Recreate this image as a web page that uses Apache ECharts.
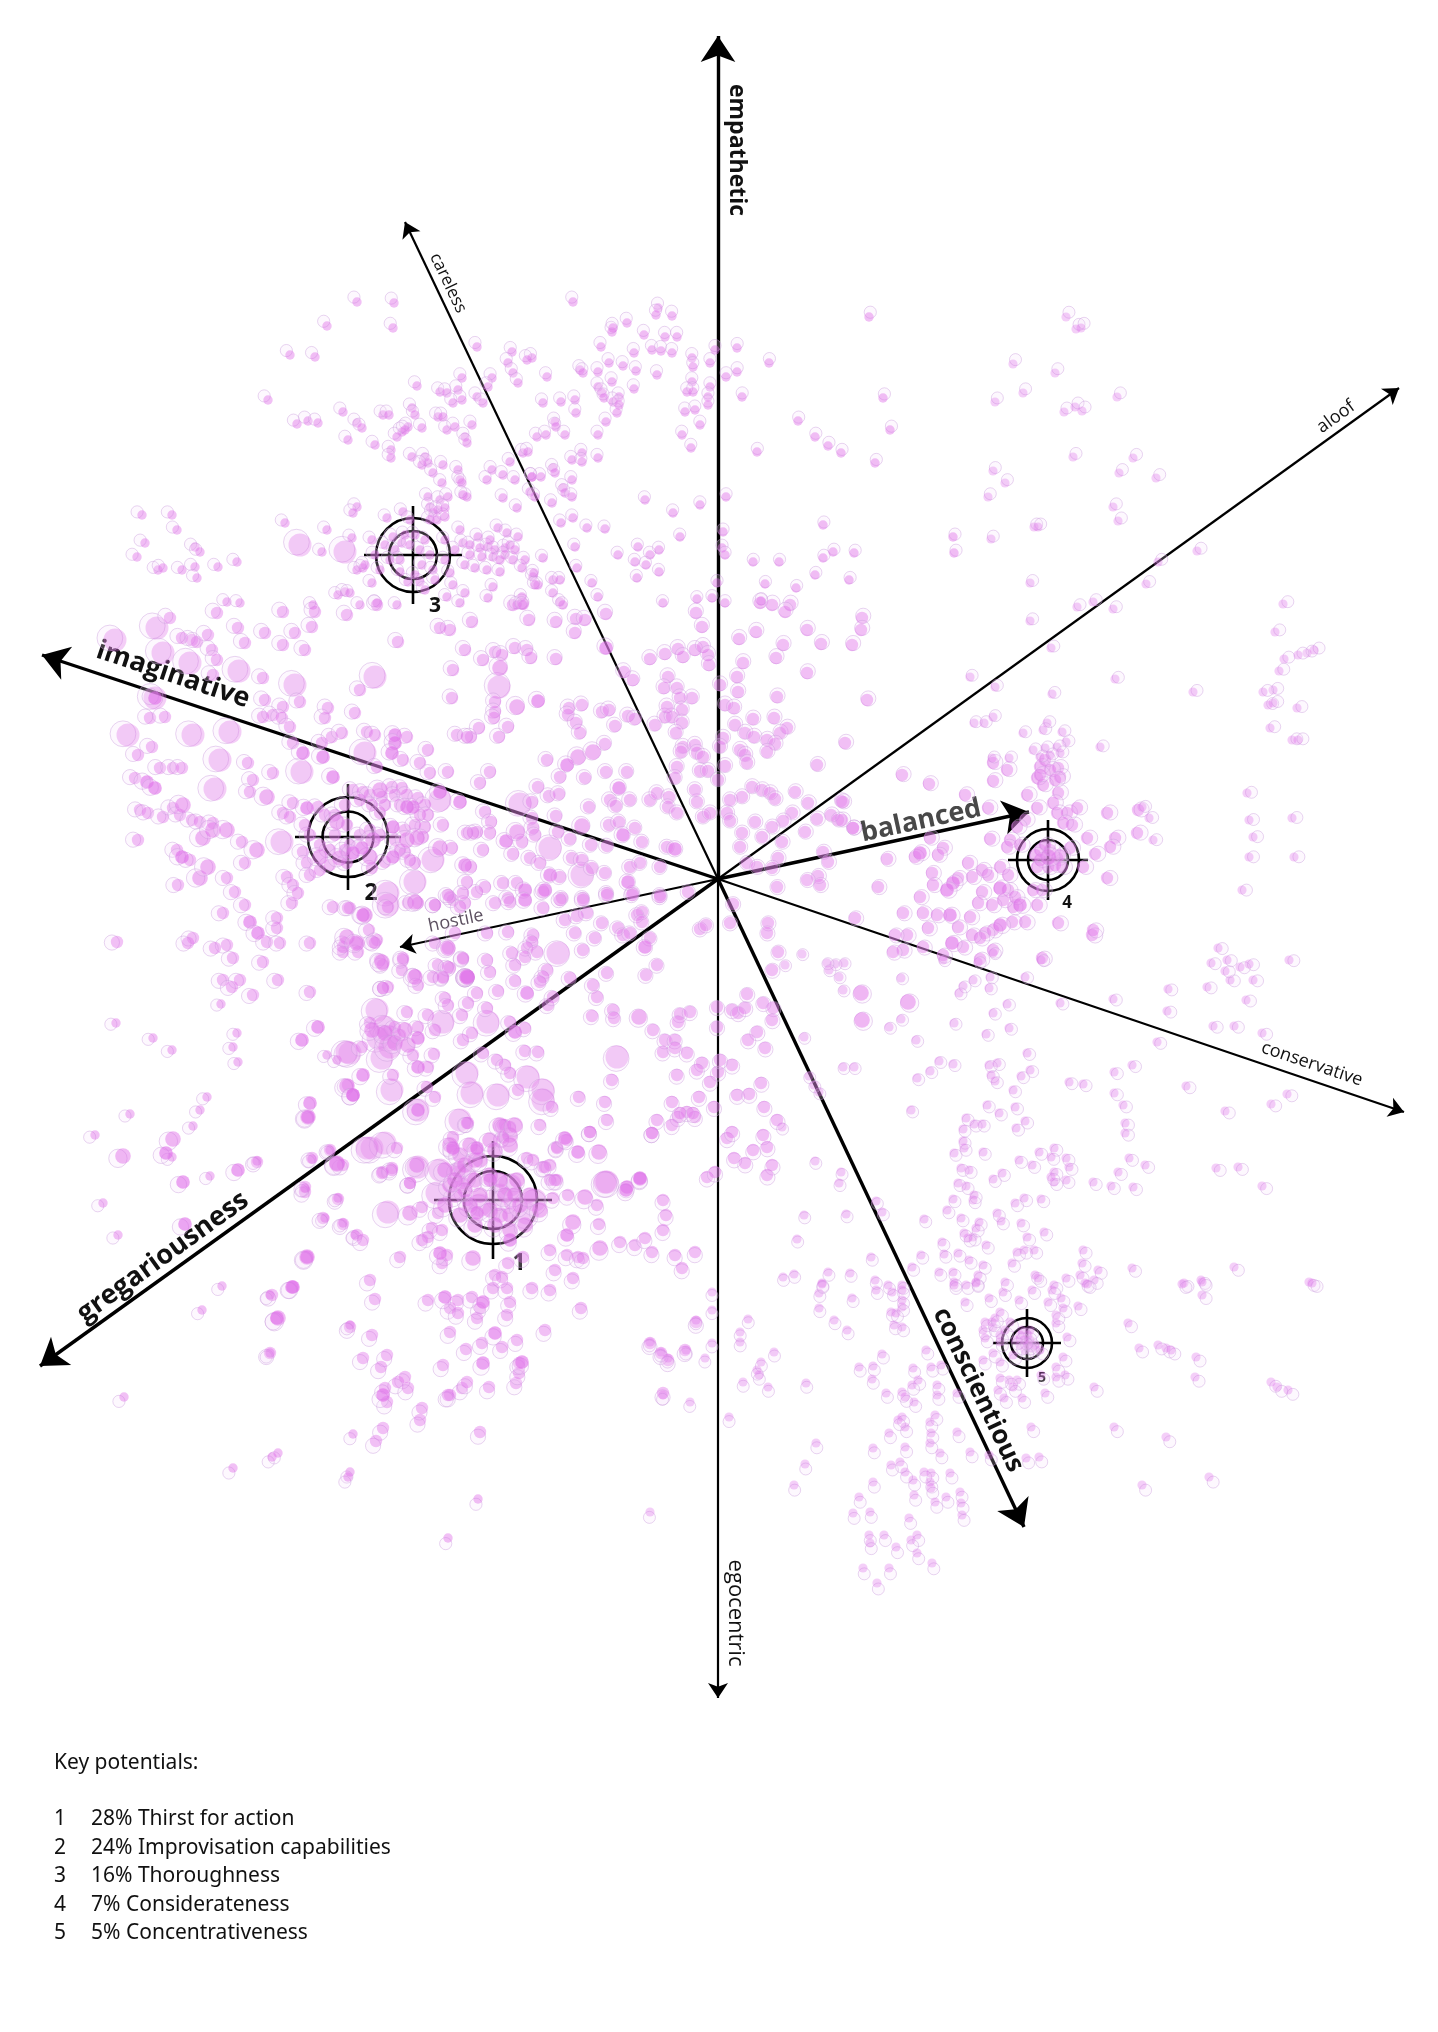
<!DOCTYPE html>
<html><head><meta charset="utf-8">
<style>html,body{margin:0;padding:0;background:#fff}#c{width:1438px;height:2032px}</style>
<script src="https://cdn.jsdelivr.net/npm/echarts@6/dist/echarts.min.js"></script>
</head><body><div id="c"></div>
<script>
const origin=[718,879];
const majorAxes=[["empathetic",[718,36]],["imaginative",[42,655]],["gregariousness",[40,1366]],["conscientious",[1024,1527]],["balanced",[1029,812]]];
const minorAxes=[["egocentric",[718,1698]],["careless",[405,222]],["aloof",[1399,388]],["conservative",[1404,1112]],["hostile",[400,947]]];
const axisLabels=[
["empathetic",737,150,-90,"b",23,"#111"],["egocentric",735,1613,-90,"r",22,"#111"],
["careless",448,283,-64.5,"r",17,"#111"],["aloof",1336,417,35.8,"r",18,"#111"],
["conservative",1312,1064,-18.7,"r",18,"#111"],["hostile",456,921,11.8,"r",18,"#5c5060"],
["balanced",921,821,12.2,"b",27,"#484848"],["imaginative",173,675,-18.5,"b",27,"#111"],
["gregariousness",163,1257,35.8,"b",27,"#111"],["conscientious",978,1390,-64.5,"b",26,"#111"]];
const targets=[[493,1200,44,29,59,"1",519,1263,23],[348,837,40,25.5,53,"2",371,893,23],[413,555,37,24,49,"3",435,606,21],[1048,860,31,20,40,"4",1067,903,17],[1027,1343,25,16,34,"5",1042,1378,14]];
const legendTitle="Key potentials:";
const legendRows=[["1","28% Thirst for action"],["2","24% Improvisation capabilities"],["3","16% Thoroughness"],["4","7% Considerateness"],["5","5% Concentrativeness"]];

const largeDots=[[300,545],[345,552],[115,640],[157,628],[163,653],[190,663],[239,671],[295,685],[375,677],[499,687],[155,698],[128,735],[193,735],[230,732],[220,760],[215,789],[302,772],[282,842],[365,753],[440,800],[433,860],[388,893],[388,905],[415,882],[520,804],[550,848],[582,875],[558,953],[377,1010],[488,1022],[443,1022],[385,1027],[390,1037],[378,1038],[350,1053],[382,1058],[390,1047],[392,1090],[467,1073],[528,1077],[472,1093],[498,1095],[543,1090],[543,1100],[617,1057],[460,1120],[372,1148],[385,1143],[367,1148],[418,1167],[418,1110],[607,1182],[605,1182],[437,1193],[388,1212],[527,1213],[347,1052],[500,1195],[480,1205],[510,1185],[465,1175],[440,1170],[535,1200]];
const midDots=[[500,668],[517,707],[578,757],[593,752],[582,826],[517,832],[203,838],[213,830],[227,830],[183,805],[200,878],[208,867],[257,850],[267,797],[380,790],[347,937],[357,943],[365,915],[415,902],[382,962],[415,977],[448,948],[467,977],[337,822],[373,840],[370,857],[407,840],[417,838],[320,857],[340,858],[440,848],[467,977],[639,1017],[599,1152],[417,1165],[458,1170],[517,1180],[410,1213],[308,1117],[337,1163],[573,1222],[600,1248],[473,1258],[585,1197],[337,1164],[123,1156],[173,1139],[278,1318],[307,1257],[347,1086],[467,977],[862,1020],[1048,857],[861,993],[908,1002],[475,1180],[490,1175],[500,1180],[505,1195],[515,1195],[480,1195],[470,1205],[490,1210],[500,1215],[510,1215],[520,1205],[530,1195],[465,1190],[455,1195],[450,1185],[445,1205],[460,1215],[475,1225],[495,1225],[510,1230],[525,1225],[540,1210],[450,1145],[460,1155],[470,1145],[490,1140],[500,1125],[510,1135],[515,1125],[480,1160],[465,1165],[445,1170],[455,1180],[475,1160],[495,1150],[510,1145],[385,1033],[395,1043],[405,1030],[408,1045],[372,1030]];
const strongDots=[[606,648],[538,701],[567,765],[619,788],[623,835],[506,841],[675,849],[550,875],[545,890],[628,882],[525,890],[363,915],[525,900],[527,993],[467,977],[645,947],[515,1032],[418,1038],[418,1067],[363,1075],[353,1095],[418,1110],[453,1148],[477,1148],[565,1138],[578,1152],[640,1179],[627,1187],[490,1180],[640,1178],[626,1190],[477,1213],[567,1235],[510,1240],[440,1253],[293,1287],[445,1297],[483,1302],[495,1333],[483,1363],[522,1362],[383,1395],[155,698],[147,782],[155,788],[182,857],[250,922],[258,933],[303,753],[323,757],[333,777],[395,735],[395,743],[392,753],[440,792],[460,802],[413,807],[407,807],[307,808],[362,848],[353,853],[393,827],[393,857],[465,865],[318,1027],[302,1040],[353,1095],[310,1103],[308,1117],[166,1153],[238,1170],[183,1182],[185,1224],[307,1257],[292,1287],[277,1318],[920,853],[953,883],[947,890],[1000,888],[1020,905],[950,915],[1000,925],[952,943]];
const coreDots=[[513,605],[523,604],[472,622],[529,620],[556,622],[576,619],[585,620],[606,614],[575,633],[696,613],[702,627],[739,639],[756,632],[807,630],[862,618],[861,630],[783,645],[821,644],[852,645],[776,658],[760,603],[790,605],[785,612],[772,605],[483,660],[495,652],[502,655],[515,648],[527,650],[531,658],[556,659],[650,659],[665,654],[678,649],[683,657],[695,650],[703,647],[708,655],[709,665],[633,680],[624,672],[668,677],[664,688],[677,688],[692,698],[680,698],[737,677],[738,692],[720,685],[743,663],[807,673],[777,697],[867,700],[725,705],[734,708],[753,719],[774,718],[495,702],[495,712],[494,718],[569,708],[582,705],[568,715],[576,723],[580,733],[602,712],[609,710],[615,726],[628,716],[635,719],[479,728],[508,727],[499,737],[471,737],[655,725],[665,717],[672,717],[682,710],[682,723],[667,707],[676,733],[735,725],[745,733],[754,737],[767,740],[780,733],[787,728],[775,744],[767,752],[723,738],[720,747],[683,747],[695,745],[681,752],[697,753],[703,757],[740,750],[745,755],[747,763],[725,766],[845,743],[817,765],[677,767],[700,771],[708,771],[718,780],[675,778],[547,760],[560,777],[605,744],[585,778],[606,772],[627,772],[490,772],[480,783],[538,787],[532,802],[549,796],[559,794],[610,800],[630,800],[616,806],[589,807],[650,800],[657,793],[669,797],[668,807],[677,813],[697,802],[695,790],[703,817],[710,813],[727,813],[730,800],[742,797],[752,787],[762,790],[770,793],[775,799],[795,792],[808,803],[792,813],[783,821],[772,827],[755,822],[730,821],[817,819],[831,815],[838,820],[841,801],[853,828],[742,833],[740,847],[762,837],[782,842],[805,832],[823,852],[828,862],[818,876],[807,880],[820,885],[778,858],[777,887],[747,863],[757,867],[772,868],[485,812],[491,822],[532,818],[556,816],[609,825],[619,822],[635,828],[642,842],[607,846],[591,845],[570,839],[558,832],[533,828],[535,835],[522,842],[513,854],[490,833],[477,832],[483,850],[667,847],[530,858],[540,863],[572,858],[582,860],[592,868],[605,873],[560,877],[640,863],[630,867],[633,893],[607,893],[660,867],[660,895],[471,867],[485,887],[503,883],[517,883],[477,892],[508,898],[583,898],[562,898],
[388,907],[350,908],[369,930],[357,943],[345,943],[373,942],[358,952],[343,952],[408,903],[418,903],[435,905],[453,900],[460,907],[495,903],[510,902],[543,892],[560,900],[543,908],[583,900],[607,895],[632,895],[660,897],[688,892],[587,913],[577,916],[565,920],[575,933],[602,923],[595,938],[583,950],[642,912],[637,915],[642,922],[618,928],[623,935],[630,933],[650,938],[487,933],[455,933],[508,932],[448,948],[463,959],[533,935],[532,942],[527,948],[525,957],[512,953],[537,952],[515,965],[547,970],[543,977],[540,982],[380,960],[383,965],[403,960],[402,970],[415,975],[418,985],[438,965],[450,968],[443,978],[467,977],[487,960],[490,972],[515,981],[498,991],[570,978],[607,973],[593,985],[597,997],[383,988],[388,987],[445,998],[448,1005],[477,993],[468,1003],[548,1005],[553,997],[646,975],[657,965],[370,1023],[407,1012],[428,1015],[462,1015],[487,1008],[510,1022],[525,1028],[395,1027],[400,1035],[418,1027],[435,1030],[472,1033],[463,1040],[613,1010],[592,1016],[614,1018],[653,1030],[680,1014],[690,1012],[678,1022],[700,929],[706,925],[730,923],[733,904],[717,1007],[732,1010],[738,1013],[745,1008],[717,1027],[768,923],[767,933],[772,970],[778,952],[747,994],[763,1003],[773,1008],[772,1020],[757,1032],[748,1040],[765,1048],[665,1040],[675,1040],[663,1052],[675,1048],[687,1053],[362,1047],[413,1055],[434,1054],[428,1067],[393,1075],[348,1085],[525,1051],[538,1052],[483,1053],[497,1060],[505,1065],[510,1073],[518,1090],[552,1107],[612,1080],[579,1097],[605,1102],[607,1120],[435,1097],[427,1087],[702,1063],[718,1072],[732,1065],[697,1070],[710,1082],[677,1075],[720,1060],[761,1083],[737,1095],[749,1094],[699,1097],[764,1107],[672,1102],[714,1107],[657,1120],[678,1117],[695,1117],[672,1125],[687,1112],[652,1133],[777,1120],[727,1138],[732,1132],[763,1135],[753,1150],[767,1147],[734,1158],[745,1163],[772,1165],[767,1175],[707,1177],[715,1172],
[468,1123],[503,1125],[510,1127],[540,1125],[503,1138],[453,1137],[397,1148],[343,1165],[383,1172],[392,1168],[410,1183],[460,1167],[557,1147],[590,1132],[527,1158],[543,1167],[550,1165],[557,1180],[467,1123],[505,1125],[680,1113],[693,1113],[652,1133],[453,1150],[477,1150],[503,1137],[567,1140],[590,1132],[557,1148],[330,1150],[312,1158],[257,1162],[392,1170],[382,1173],[410,1183],[305,1187],[305,1192],[533,1160],[545,1167],[550,1180],[555,1180],[422,1207],[338,1199],[467,1200],[463,1183],[510,1203],[553,1198],[568,1195],[597,1205],[663,1200],[666,1215],[663,1230],[323,1218],[343,1224],[357,1235],[363,1240],[438,1213],[432,1228],[442,1230],[428,1237],[422,1240],[599,1224],[620,1242],[635,1245],[645,1238],[652,1252],[447,1255],[442,1263],[523,1257],[550,1250],[567,1255],[578,1257],[583,1258],[675,1255],[682,1268],[695,1252],[400,1257],[508,1263],[555,1270],[573,1278],[495,1275],[502,1277],[493,1288],[507,1288],[532,1288],[550,1290],[272,1295],[370,1280],[375,1299],[428,1300],[458,1300],[472,1297],[480,1308],[450,1308],[458,1313],[477,1318],[510,1302],[507,1315],[581,1308],[545,1330],[350,1327],[450,1332],[517,1340],[482,1343],[502,1347],[466,1349],[372,1335],[650,1343],[696,1322],[685,1350],[661,1353],[668,1360],[270,1353],[363,1358],[387,1355],[381,1367],[443,1365],[405,1377],[398,1382],[408,1388],[462,1388],[489,1387],[516,1383],[385,1388],[450,1395],[663,1393],
[387,1402],[422,1408],[448,1395],[467,1382],[480,1432],[383,1428],[376,1441],[519,1363],[519,1373],[420,1420],
[170,618],[192,640],[182,638],[197,642],[208,635],[212,650],[217,660],[213,675],[360,690],[263,678],[265,700],[300,702],[283,707],[150,718],[165,717],[217,613],[238,628],[245,643],[265,633],[283,645],[295,633],[305,650],[312,627],[315,612],[283,612],[347,615],[398,642],[377,605],[450,630],[465,650],[453,670],[452,698],[457,735],[467,737],[440,628],[273,715],[282,718],[263,717],[290,727],[328,708],[355,713],[325,718],[367,732],[375,735],[332,737],[342,733],[407,737],[403,760],[428,750],[420,763],[448,772],[430,773],[293,743],[322,743],[377,767],[353,790],[363,792],[392,787],[402,788],[318,807],[293,803],[283,813],[290,817],[273,773],[253,780],[248,763],[250,792],[138,840],[135,778],[160,768],[138,755],[152,747],[173,768],[182,768],[140,810],[148,813],[163,817],[173,808],[180,815],[192,820],[200,822],[213,823],[242,842],[245,863],[177,850],[190,860],[178,885],[227,878],[235,892],[287,877],[293,885],[298,893],[292,903],[245,905],[223,913],[277,918],[277,928],[267,942],[280,943],[227,945],[215,948],[193,938],[188,943],[117,942],[233,958],[263,962],[310,943],[343,947],[377,940],[333,907],[348,908],[435,905],[450,897],[465,903],[375,943],[403,958],[435,943],[463,958],[448,967],[443,977],[383,988],[223,980],[240,980],[232,987],[278,980],[310,992],[433,977],[253,995],[347,863],[303,852],[307,863],[452,848],[443,825],[425,827],[423,837],[415,863],[405,852],[467,882],[448,895],[463,893],[473,833],[467,833],[380,813],
[370,795],[382,797],[395,795],[407,795],[418,798],[425,805],[400,805],[385,805],[372,805],[360,800],[345,805],[335,815],[325,815],[347,825],[335,835],[350,845],[360,835],[370,830],[380,835],[395,840],[405,830],[415,825],[420,815],[428,815],[400,850],[410,860],[385,862],[372,868],[345,850],[330,850],[320,845],[310,835],[305,825],[330,865],[320,870],[310,875],
[902,775],[929,784],[993,781],[993,763],[1007,770],[1040,767],[1058,768],[1037,778],[1043,785],[1060,777],[1058,793],[1027,795],[1037,808],[1053,803],[1057,813],[1067,813],[1077,808],[1063,823],[1072,825],[965,795],[988,808],[1107,813],[1138,810],[1025,820],[1017,827],[1010,840],[1007,847],[1020,845],[990,839],[1087,838],[1115,838],[1110,847],[1137,833],[1095,854],[943,848],[930,838],[915,857],[938,855],[887,859],[853,828],[843,802],[842,820],[1040,850],[1057,858],[1048,867],[1037,867],[1062,867],[1070,848],[1083,867],[1042,890],[1033,890],[968,863],[972,877],[932,873],[933,885],[958,878],[982,870],[988,875],[1000,867],[1008,875],[982,892],[1008,890],[920,897],[878,887],[1107,878],[978,903],[992,905],[1013,907],[1037,905],[1003,900],[1015,897],[903,913],[923,913],[937,915],[970,917],[855,918],[928,928],[958,927],[993,930],[985,933],[1012,922],[1025,922],[1058,923],[907,935],[895,935],[972,935],[980,938],[963,947],[903,950],[893,952],[993,950],[1092,935],[1093,930],[923,947],[1042,958],[980,959],[943,955],[1040,860],[1050,850],[1055,865],[1045,845],[1060,855],[1035,855],[1045,760],[1050,770],[1055,780],[1040,775]];
const lightDots=[[357,302],[394,303],[327,326],[393,328],[290,355],[315,357],[268,400],[477,347],[512,352],[532,358],[527,360],[508,363],[513,373],[518,383],[417,386],[462,378],[492,378],[488,387],[440,392],[447,393],[458,390],[462,400],[453,403],[477,397],[483,403],[297,424],[308,421],[318,423],[343,412],[357,423],[362,428],[348,440],[383,415],[389,415],[412,408],[415,415],[422,428],[438,417],[443,417],[447,430],[455,427],[465,437],[467,443],[472,425],[408,427],[402,432],[397,437],[405,430],[375,445],[391,450],[391,458],[412,457],[425,457],[428,463],[422,465],[433,473],[443,465],[458,470],[460,480],[462,483],[467,497],[463,495],[442,483],[492,470],[487,480],[503,475],[515,480],[510,462],[523,453],[528,452],[532,477],[530,492],[535,497],[503,498],[517,508],[428,497],[430,507],[440,500],[448,497],[433,513],[445,517],[437,520],[357,507],[353,513],[285,523],[327,530],[142,515],[172,515],[177,530],[145,543],[137,557],[195,547],[200,552],[237,562],[218,567],[158,570],[163,568],[182,570],[195,567],[197,578],[227,602],[240,603],[387,518],[403,512],[410,520],[372,540],[393,537],[402,543],[352,538],[322,552],[363,568],[357,570],[372,583],[422,565],[420,582],[408,582],[433,570],[345,592],[338,595],[350,593],[397,605],[377,603],[360,605],[313,605],[460,530],[463,543],[478,537],[498,528],[507,533],[518,537],[488,547],[505,555],[493,557],[482,557],[513,560],[522,568],[465,565],[475,568],[487,570],[500,572],[450,573],[453,585],[465,593],[447,597],[460,603],[493,587],[488,598],[522,597],[517,605],[523,605],[533,577],[538,585],
[385,545],[395,550],[400,560],[410,545],[420,550],[430,555],[425,540],[415,535],[405,535],[390,560],[400,572],[415,575],[425,590],[435,580],[375,555],[365,565],[380,570],[445,540],[455,550],[445,560],[470,555],[480,548],[495,550],[505,548],[510,545],[500,560],[515,550],[525,560],[490,540],[470,545],[438,510],[445,508],[430,520],
[573,302],[658,308],[656,315],[672,316],[627,323],[612,332],[613,328],[644,335],[665,337],[677,337],[601,347],[634,353],[652,350],[661,351],[672,353],[609,363],[623,366],[598,372],[636,371],[657,375],[580,370],[583,373],[547,377],[692,358],[693,367],[710,363],[715,350],[737,348],[769,363],[737,372],[726,377],[598,387],[602,393],[612,382],[634,389],[619,397],[613,402],[617,413],[619,405],[604,398],[692,382],[687,392],[693,392],[710,387],[708,397],[708,405],[742,397],[575,400],[561,402],[543,403],[576,413],[685,412],[695,410],[606,422],[700,425],[555,422],[556,427],[537,437],[546,435],[565,435],[598,435],[682,435],[691,448],[798,421],[815,437],[828,446],[841,453],[883,398],[890,430],[875,463],[869,317],[757,452],[582,453],[572,460],[582,462],[598,458],[553,468],[555,473],[541,477],[532,477],[572,480],[563,488],[565,493],[572,497],[552,503],[645,500],[673,513],[700,505],[726,497],[573,518],[561,523],[587,528],[605,529],[680,537],[575,547],[823,525],[953,537],[954,553],[723,532],[722,548],[725,555],[638,547],[618,555],[635,562],[650,555],[646,565],[659,550],[659,572],[637,578],[543,558],[577,568],[753,562],[779,562],[823,558],[833,552],[854,553],[815,575],[849,580],[765,584],[796,588],[717,583],[592,583],[598,597],[534,573],[535,585],[553,580],[560,580],[553,593],[560,602],[563,605],[663,603],[697,599],[712,598],[725,603],[761,601],
[116,1023],[153,1038],[172,1050],[221,1004],[237,1033],[233,1047],[238,1062],[327,1055],[337,1060],[207,1097],[200,1110],[193,1126],[130,1114],[95,1135],[172,1157],[330,1150],[312,1159],[257,1161],[210,1176],[103,1203],[118,1235],[305,1188],[338,1198],[325,1218],[343,1223],[355,1235],[222,1286],[202,1310],[270,1295],[350,1325],[270,1353],[124,1397],[233,1468],[278,1453],[272,1457],[353,1434],[350,1472],[478,1499],[448,1538],[348,1477]];
const faintDots=[[1066,317],[1076,329],[1081,328],[1013,364],[1055,373],[1117,397],[995,402],[1023,393],[1064,412],[1075,407],[1082,411],[1073,457],[1133,458],[1119,473],[1156,478],[993,471],[1005,483],[988,497],[1113,507],[1118,521],[1034,527],[1038,527],[991,539],[1197,551],[1158,562],[1146,584],[1030,583],[1077,607],[1093,602],[1113,609],[1030,621],[1283,604],[1275,632],[1284,659],[1307,653],[1051,648],[970,677],[995,687],[1115,679],[1052,694],[1193,692],[1273,690],[1268,705],[1297,708],[1270,728],[1292,740],[974,723],[984,723],[993,717],[1023,733],[1043,730],[1047,723],[1062,732],[1066,742],[1033,750],[1045,748],[1057,747],[1060,753],[1100,747],[992,758],[1009,758],[1040,757],[1050,755],
[1142,807],[1149,818],[1247,793],[1253,837],[1249,820],[1292,818],[1294,857],[1249,857],[1153,840],[1242,890],[1227,960],[1230,980],[1207,987],[1253,980],[1289,960],[1298,655],[1314,650],[1279,671],[1273,703],[1298,740],[1263,692],[1218,948],[1240,967],
[802,954],[785,965],[835,964],[844,963],[827,963],[829,970],[839,977],[843,990],[901,978],[943,960],[978,962],[993,953],[1041,960],[1025,977],[1060,1003],[1113,999],[1168,989],[1167,1011],[1211,963],[1225,971],[1249,964],[1246,1000],[1213,1026],[1234,1026],[1262,1033],[1157,1042],[973,980],[963,986],[959,993],[989,988],[990,977],[1007,1004],[993,1013],[901,1019],[889,1027],[916,1040],[954,1023],[986,1034],[1009,1028],[804,1037],[1027,1053],[953,1064],[939,1061],[930,1071],[917,1078],[843,1067],[854,1067],[989,1065],[997,1063],[991,1075],[995,1081],[1030,1070],[1021,1076],[1069,1082],[1083,1084],[1114,1072],[1132,1065],[1013,1090],[1114,1093],[1123,1105],[1186,1086],[1225,1111],[1271,1104],[1287,1094],[809,1076],[814,1085],[819,1092],[911,1110],[987,1105],[999,1113],[1015,1107],[1025,1121],[1016,1128],[966,1118],[963,1129],[974,1124],[982,1124],[963,1141],[964,1148],[954,1153],[983,1152],[782,1127],[1125,1123],[1125,1133],[815,1161],[841,1172],[839,1183],[961,1168],[969,1170],[1002,1173],[993,1179],[1019,1160],[1032,1165],[1039,1152],[1054,1148],[1051,1157],[1066,1158],[1069,1167],[1054,1172],[1051,1177],[1066,1180],[1054,1182],[1093,1182],[1111,1186],[1133,1187],[1118,1172],[1129,1158],[1145,1165],[1216,1168],[1238,1167],[1262,1186],[958,1183],[966,1186],[974,1195],[973,1200],[953,1199],[947,1210],[1024,1198],[1015,1203],[1041,1199],[876,1201],[882,1212],[804,1215],[846,1214],[924,1219],[961,1218],[997,1213],[1001,1221],[979,1222],[1021,1223],[1044,1232],[964,1233],[973,1237],[968,1238],[976,1228],[986,1245],[1027,1237],[797,1239],[942,1242],[944,1254],[958,1253],[969,1260],[921,1255],[912,1267],[871,1257],[1017,1252],[1024,1250],[1034,1250],[1083,1250],[1082,1263],[1098,1270],[1012,1263],[983,1265],[939,1272],[953,1272],[978,1275],[1035,1275],[1038,1278],[1080,1275],[1094,1280],[1085,1283],[1066,1278],[1132,1268],[1234,1267],[1201,1280],[1184,1283],[1309,1282],[783,1277],[794,1274],[828,1272],[850,1273],[822,1283],[875,1280],[888,1285],[902,1285],[954,1282],[966,1285],[976,1282],[1005,1282],[1054,1285],
[712,1292],[712,1310],[696,1320],[748,1319],[740,1332],[740,1342],[650,1342],[712,1343],[686,1350],[661,1352],[668,1358],[705,1358],[819,1293],[822,1284],[852,1298],[819,1308],[834,1320],[847,1330],[876,1290],[892,1292],[902,1290],[902,1300],[902,1307],[891,1312],[896,1313],[894,1325],[902,1327],[774,1352],[761,1362],[757,1370],[759,1375],[743,1382],[768,1387],[806,1383],[663,1395],[690,1402],[729,1417],[882,1354],[859,1367],[873,1366],[872,1379],[926,1350],[913,1368],[918,1380],[931,1367],[941,1365],[912,1385],[937,1385],[886,1393],[902,1392],[905,1397],[914,1402],[937,1395],[957,1393],[965,1302],[954,1285],[976,1283],[989,1298],[1003,1292],[1019,1300],[1000,1312],[1032,1290],[1052,1290],[1048,1302],[1061,1298],[1078,1306],[1087,1284],[1056,1315],[1063,1308],[1182,1284],[1202,1295],[1202,1282],[985,1322],[983,1330],[993,1327],[985,1338],[1022,1330],[1028,1342],[1032,1348],[1056,1323],[1067,1337],[983,1360],[1000,1362],[993,1353],[1013,1355],[1063,1357],[1056,1367],[1065,1375],[1056,1377],[1041,1375],[1017,1380],[1009,1380],[1013,1387],[1000,1378],[998,1390],[1004,1398],[1022,1398],[1045,1393],[1094,1387],[1128,1323],[1139,1348],[1158,1345],[1166,1348],[1171,1350],[1196,1357],[1195,1377],[1271,1382],[1277,1387],[1288,1390],[1312,1283],[902,1417],[898,1420],[905,1427],[889,1433],[935,1415],[930,1422],[931,1433],[930,1443],[957,1432],[873,1448],[905,1447],[940,1453],[970,1452],[989,1455],[816,1443],[1031,1427],[1114,1427],[1166,1437],[1026,1458],[1039,1457],[805,1464],[891,1465],[900,1462],[905,1472],[924,1472],[931,1473],[913,1480],[930,1482],[950,1473],[873,1482],[794,1485],[931,1488],[914,1495],[960,1492],[946,1497],[859,1497],[935,1502],[961,1503],[1142,1485],[1209,1477],[650,1512],[853,1513],[870,1512],[962,1515],[909,1518],[917,1535],[869,1535],[884,1535],[911,1540],[870,1543],[896,1547],[917,1553],[932,1563],[863,1568],[889,1568],[877,1583],
[1020,1335],[1030,1340],[1035,1345],[1025,1350],[1020,1345],[1030,1330],[1040,1350],[1015,1340],[1010,1322],[1005,1330],[1000,1335],[992,1322],[995,1318],[1000,1342],[1028,1335],[1028,1345],[1024,1340]];
const bubbleGroups=[["largeDots",largeDots,11.5,.33],["coreDots",coreDots,6.2,.4],["midDots",midDots,7.8,.46],["lightDots",lightDots,4.7,.42],["faintDots",faintDots,4.6,.32],["strongDots",strongDots,6.8,.58]];

const chart=echarts.init(document.getElementById('c'),null,{renderer:'canvas',width:1438,height:2032});
const bubbleSeries=bubbleGroups.map(([name,data,r,alpha],i)=>({
  type:'custom',name,coordinateSystem:'cartesian2d',data,z:10+i,silent:true,clip:false,progressive:0,animation:false,
  encode:{x:0,y:1},
  renderItem:(p,api)=>{
    const c=api.coord([api.value(0),api.value(1)]),o=api.coord(origin);
    const rx=c[0]+(c[0]-o[0])*.0085, ry=c[1]+(c[1]-o[1])*.0085;
    return {type:'group',children:[
      {type:'circle',shape:{cx:rx,cy:ry,r:r+1.4},style:{fill:'rgba(248,225,250,.22)',stroke:'rgba(205,160,222,.45)',lineWidth:1}},
      {type:'circle',shape:{cx:c[0],cy:c[1],r},style:{fill:`rgba(222,105,232,${alpha})`}}
    ]};
  }}));
chart.setOption({
  animation:false,backgroundColor:'#fff',
  grid:{left:0,right:0,top:0,bottom:0},
  xAxis:{type:'value',min:0,max:1438,show:false},
  yAxis:{type:'value',min:0,max:2032,inverse:true,show:false},
  graphic:[
    {type:'text',left:54,top:1753,style:{text:legendTitle,font:'21px "Noto Sans"',fill:'#111'}},
    ...legendRows.flatMap((row,i)=>[
      {type:'text',left:54,top:1809+i*28.5,style:{text:row[0],font:'21px "Noto Sans"',fill:'#111'}},
      {type:'text',left:91,top:1809+i*28.5,style:{text:row[1],font:'21px "Noto Sans"',fill:'#111'}}
    ])],
  series:[
    {type:'lines',coordinateSystem:'cartesian2d',z:1,silent:true,symbol:['none','arrow'],symbolSize:26,
      lineStyle:{color:'#000',width:3.4,opacity:1,curveness:0},
      data:majorAxes.map(a=>({name:a[0],coords:[origin,a[1]]}))},
    {type:'lines',coordinateSystem:'cartesian2d',z:1,silent:true,symbol:['none','arrow'],symbolSize:15,
      lineStyle:{color:'#000',width:2.2,opacity:1,curveness:0},
      data:minorAxes.map(a=>({name:a[0],coords:[origin,a[1]]}))},
    {type:'custom',coordinateSystem:'cartesian2d',z:2,silent:true,clip:false,data:axisLabels,encode:{x:1,y:2},
      renderItem:(p,api)=>{
        const d=axisLabels[p.dataIndex],c=api.coord([d[1],d[2]]);
        return {type:'text',x:c[0],y:c[1],rotation:d[3]*Math.PI/180,
          style:{text:d[0],font:`${d[4]==='b'?700:400} ${d[5]}px "Open Sans"`,fill:d[6],align:'center',verticalAlign:'middle'}};
      }},
    {type:'custom',coordinateSystem:'cartesian2d',z:3,silent:true,clip:false,data:targets,encode:{x:0,y:1},
      renderItem:(p,api)=>{
        const d=targets[p.dataIndex],c=api.coord([d[0],d[1]]),t=api.coord([d[6],d[7]]);
        const ls={stroke:'#000',lineWidth:2.6,fill:null};
        return {type:'group',children:[
          {type:'circle',shape:{cx:c[0],cy:c[1],r:d[2]},style:ls},
          {type:'circle',shape:{cx:c[0],cy:c[1],r:d[3]},style:ls},
          {type:'line',shape:{x1:c[0]-d[4],y1:c[1],x2:c[0]+d[4],y2:c[1]},style:ls},
          {type:'line',shape:{x1:c[0],y1:c[1]-d[4],x2:c[0],y2:c[1]+d[4]},style:ls},
          {type:'text',x:t[0],y:t[1],style:{text:d[5],font:`700 ${d[8]}px "Open Sans"`,fill:'#111',align:'center',verticalAlign:'middle'}}
        ]};
      }},
    ...bubbleSeries
  ]
});
</script></body></html>
